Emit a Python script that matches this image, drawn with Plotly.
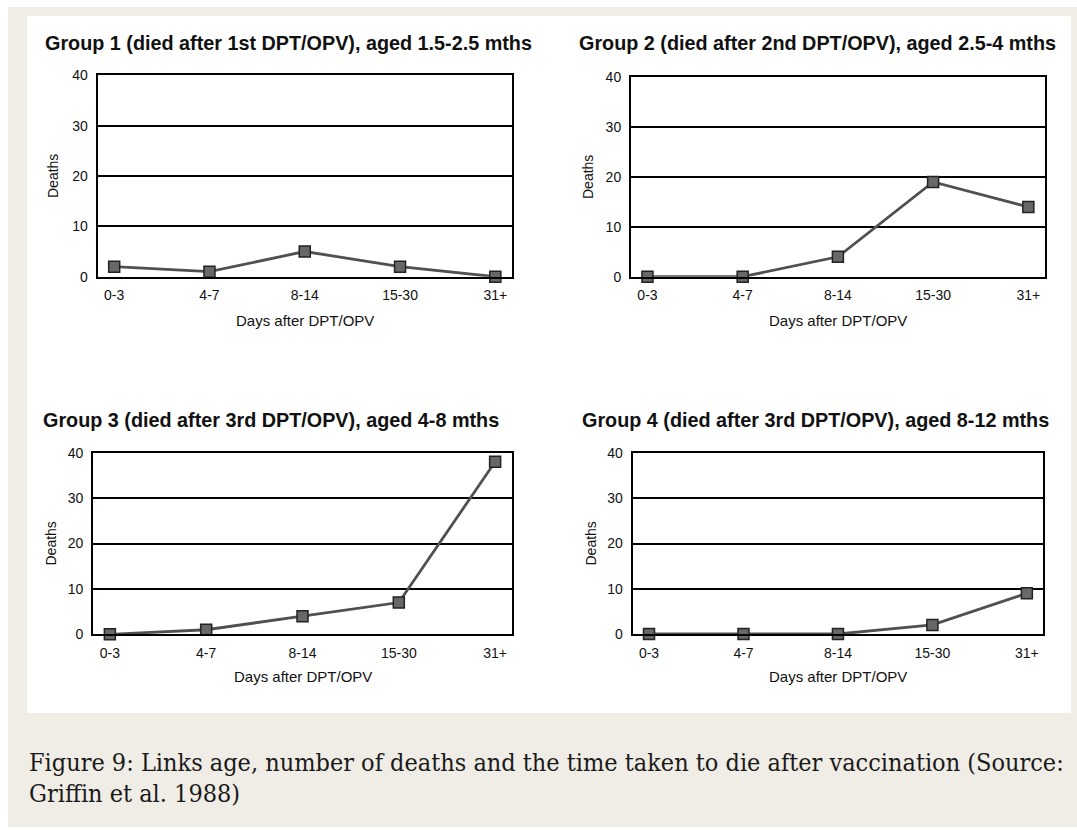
import plotly.graph_objects as go

# ---------------- data ----------------
categories = ["0-3", "4-7", "8-14", "15-30", "31+"]
group1_deaths = [2, 1, 5, 2, 0]
group2_deaths = [0, 0, 4, 19, 14]
group3_deaths = [0, 1, 4, 7, 38]
group4_deaths = [0, 0, 0, 2, 9]
titles = [
    "Group 1 (died after 1st DPT/OPV), aged 1.5-2.5 mths",
    "Group 2 (died after 2nd DPT/OPV), aged 2.5-4 mths",
    "Group 3 (died after 3rd DPT/OPV), aged 4-8 mths",
    "Group 4 (died after 3rd DPT/OPV), aged 8-12 mths",
]
y_ticks = [0, 10, 20, 30, 40]
x_title = "Days after DPT/OPV"
y_title = "Deaths"
caption_line1 = "Figure 9: Links age, number of deaths and the time taken to die after vaccination (Source:"
caption_line2 = "Griffin et al. 1988)"

series = [group1_deaths, group2_deaths, group3_deaths, group4_deaths]

# ---------------- layout (pixels) ----------------
W, H = 1077, 830
# plot boxes: left, right, top, bottom
boxes = [
    (97.5, 512, 75.3, 276.7),
    (630.8, 1045, 77.3, 276.7),
    (93, 512, 452.7, 634.3),
    (632.5, 1043.4, 453, 634),
]
title_pos = [(288.5, 43), (817, 43), (271, 420), (815, 420)]
ytitle_x = [53, 588, 50, 590]
xtitle_y = [320, 320, 676, 676]

def px(x):
    return x / W

def py(y):
    return 1 - y / H

fig = go.Figure()
text_col = "#111111"
sans = "Liberation Sans, Arial, sans-serif"

for i, (vals, box) in enumerate(zip(series, boxes)):
    n = "" if i == 0 else str(i + 1)
    l, r, t, b = box
    fig.add_trace(go.Scatter(
        x=categories, y=vals, mode="lines+markers",
        xaxis="x" + n, yaxis="y" + n,
        line=dict(color="#505050", width=2.8),
        marker=dict(symbol="square", size=11, color="#686868",
                    line=dict(color="#222222", width=1.5)),
        cliponaxis=False, showlegend=False,
    ))
    fig.layout["xaxis" + n] = dict(
        domain=[px(l), px(r)], anchor="y" + n, type="category",
        range=[-0.175, 4.175], showgrid=False, zeroline=False,
        showline=True, mirror=True, linecolor="black", linewidth=1.6,
        ticks="", ticklabelstandoff=5, automargin=False,
        tickfont=dict(family=sans, size=14, color=text_col),
        fixedrange=True,
    )
    fig.layout["yaxis" + n] = dict(
        domain=[py(b), py(t)], anchor="x" + n,
        range=[0, 40], tickvals=y_ticks,
        showgrid=True, gridcolor="black", gridwidth=1.6,
        zeroline=False, showline=True, mirror=True, automargin=False,
        linecolor="black", linewidth=1.6, ticks="", ticklabelstandoff=5,
        tickfont=dict(family=sans, size=14, color=text_col),
        fixedrange=True,
    )
    tx, ty = title_pos[i]
    fig.add_annotation(text="<b>" + titles[i] + "</b>", x=px(tx), y=py(ty),
                       xref="paper", yref="paper", showarrow=False,
                       xanchor="center", yanchor="middle",
                       font=dict(family=sans, size=19.8, color=text_col))
    fig.add_annotation(text=y_title, x=px(ytitle_x[i]), y=py((t + b) / 2),
                       xref="paper", yref="paper", showarrow=False, textangle=-90,
                       xanchor="center", yanchor="middle",
                       font=dict(family=sans, size=14, color=text_col))
    fig.add_annotation(text=x_title, x=px((l + r) / 2), y=py(xtitle_y[i]),
                       xref="paper", yref="paper", showarrow=False,
                       xanchor="center", yanchor="middle",
                       font=dict(family=sans, size=15, color=text_col))

serif = "DejaVu Serif Condensed, DejaVu Serif, serif"
fig.add_annotation(text=caption_line1, x=px(27), y=py(762), xref="paper", yref="paper",
                   showarrow=False, xanchor="left", yanchor="middle",
                   font=dict(family=serif, size=25, color="#1a1a1a"))
fig.add_annotation(text=caption_line2, x=px(27), y=py(793), xref="paper", yref="paper",
                   showarrow=False, xanchor="left", yanchor="middle",
                   font=dict(family=serif, size=25, color="#1a1a1a"))

fig.update_layout(
    width=W, height=H, margin=dict(l=0, r=0, t=0, b=0, autoexpand=False),
    paper_bgcolor="white", plot_bgcolor="white",
    shapes=[
        dict(type="rect", xref="paper", yref="paper", layer="below",
             x0=px(8), x1=1, y0=py(827), y1=py(7),
             fillcolor="#f0ede6", line=dict(width=0)),
        dict(type="rect", xref="paper", yref="paper", layer="below",
             x0=px(27), x1=px(1071), y0=py(713), y1=py(16),
             fillcolor="white", line=dict(width=0)),
    ],
)

fig.write_html(
    "out.html",
    config={"displayModeBar": False},
    post_script="document.body.style.margin='0';",
)
